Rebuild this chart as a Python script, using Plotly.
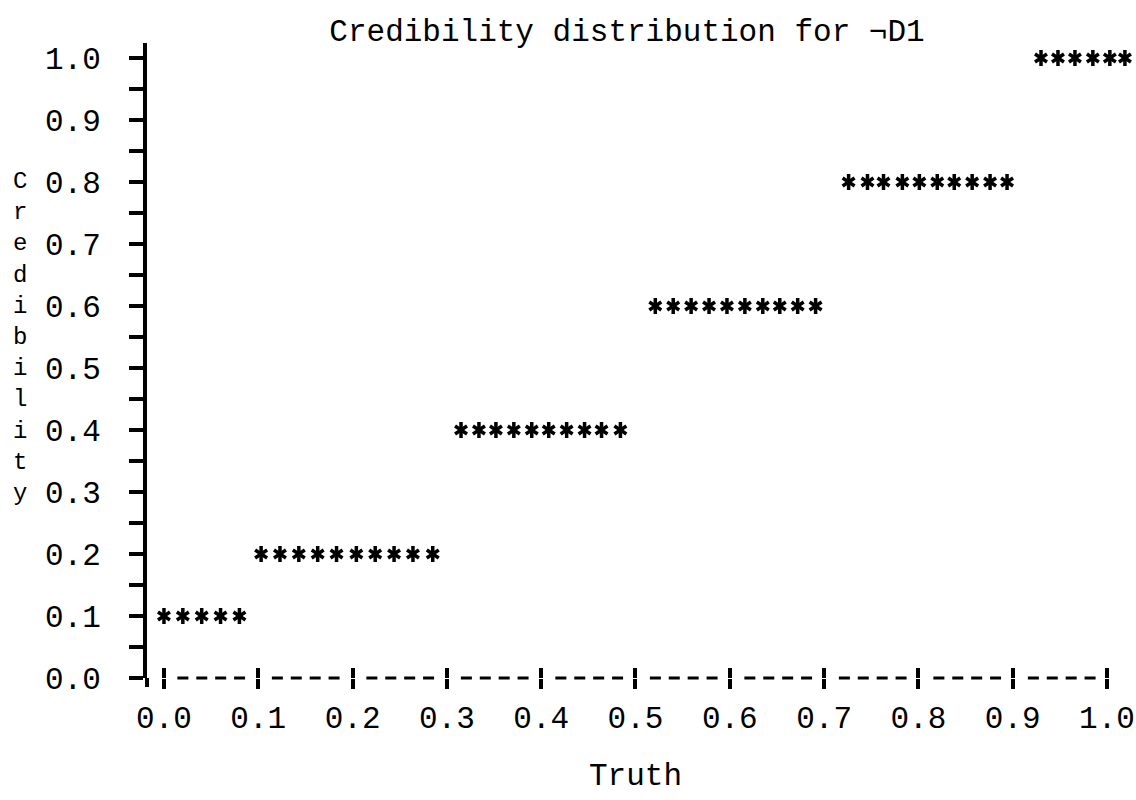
import plotly.graph_objects as go

# ---------------- data ----------------
title_text = "Credibility distribution for ¬D1"
x_axis_title = "Truth"
y_title_letters = ["C", "r", "e", "d", "i", "b", "i", "l", "i", "t", "y"]
y_title_center = 0.55            # letters run from the 0.8 row down to the 0.3 row

# credibility level of each printed row of asterisks
credibility_levels = [0.1, 0.2, 0.4, 0.6, 0.8, 1.0]
# truth value of every printed asterisk in each row
truth_at_01 = [0.000, 0.020, 0.040, 0.060, 0.080]
truth_at_02 = [0.103, 0.123, 0.143, 0.163, 0.183, 0.204, 0.224, 0.244, 0.264, 0.285]
truth_at_04 = [0.315, 0.334, 0.352, 0.371, 0.390, 0.408, 0.427, 0.446, 0.464, 0.484]
truth_at_06 = [0.521, 0.540, 0.559, 0.578, 0.597, 0.616, 0.635, 0.653, 0.672, 0.691]
truth_at_08 = [0.726, 0.746, 0.763, 0.783, 0.801, 0.820, 0.838, 0.857, 0.876, 0.894]
truth_at_10 = [0.930, 0.948, 0.966, 0.985, 1.003, 1.019]
truth_rows = [truth_at_01, truth_at_02, truth_at_04, truth_at_06, truth_at_08, truth_at_10]

x_tick_vals = [0.0, 0.1, 0.2, 0.3, 0.4, 0.5, 0.6, 0.7, 0.8, 0.9, 1.0]
x_tick_text = ["0.0", "0.1", "0.2", "0.3", "0.4", "0.5", "0.6", "0.7", "0.8", "0.9", "1.0"]
y_tick_vals = [0.0, 0.05, 0.1, 0.15, 0.2, 0.25, 0.3, 0.35, 0.4, 0.45, 0.5,
               0.55, 0.6, 0.65, 0.7, 0.75, 0.8, 0.85, 0.9, 0.95, 1.0]
y_tick_text = ["0.0", "", "0.1", "", "0.2", "", "0.3", "", "0.4", "", "0.5",
               "", "0.6", "", "0.7", "", "0.8", "", "0.9", "", "1.0"]

# ---------------- styling / layout constants ----------------
FONT = "Liberation Mono, Courier New, monospace"
FONT_SIZE = 31
LETTER_SIZE = 24                 # 1.3 line height -> one letter per 0.05 row
INK = "#000000"
W, H = 1136, 800
M_L, M_R, M_T, M_B = 147, 4, 43, 122
X_MIN, X_MAX = -0.018, 1.0265
Y_MIN, Y_MAX = 0.0, 1.0242

plot_w = W - M_L - M_R
plot_h = H - M_T - M_B
px_per_x = plot_w / (X_MAX - X_MIN)
pitch = 0.02 * px_per_x          # one printer column
dash_len = 11.0
gap_small = pitch - dash_len
gap_edge = pitch - dash_len / 2
dash_pattern = ",".join(f"{v:.1f}px" for v in
                        [0, gap_edge, dash_len, gap_small, dash_len, gap_small,
                         dash_len, gap_small, dash_len, gap_edge])

def x_dom(v):
    return (v - X_MIN) / (X_MAX - X_MIN)

stars_x, stars_y = [], []
for level, xs in zip(credibility_levels, truth_rows):
    stars_x += xs
    stars_y += [level] * len(xs)

fig = go.Figure()
for sym in ["y-up", "y-down"]:
    fig.add_trace(go.Scatter(
        x=stars_x, y=stars_y, mode="markers",
        marker=dict(symbol=sym, size=10, color=INK, line=dict(width=3.5, color=INK)),
        cliponaxis=False, hoverinfo="skip", showlegend=False))
# helper trace so the overlay axis (upper half of the "|" ticks) is drawn
fig.add_trace(go.Scatter(x=[None], y=[None], xaxis="x2", yaxis="y",
                         showlegend=False, hoverinfo="skip"))

text_font = dict(family=FONT, size=FONT_SIZE, color=INK)
annotations = [
    dict(text="<br>".join(y_title_letters), xref="paper", x=0, xshift=20 - M_L,
         yref="y", y=y_title_center, xanchor="center", yanchor="middle",
         align="center", showarrow=False,
         font=dict(family=FONT, size=LETTER_SIZE, color=INK)),
    dict(text=x_axis_title, xref="x", x=0.5, yref="paper", y=0, yshift=-98,
         xanchor="center", yanchor="middle", showarrow=False, font=text_font),
]

fig.update_layout(
    width=W, height=H,
    margin=dict(l=M_L, r=M_R, t=M_T, b=M_B, autoexpand=False),
    paper_bgcolor="white", plot_bgcolor="white",
    font=text_font,
    title=dict(text=title_text, xref="container", x=627 / W, xanchor="center",
               yref="container", y=1 - 30 / H, yanchor="middle",
               font=text_font),
    xaxis=dict(range=[X_MIN, X_MAX], tickvals=x_tick_vals, ticktext=x_tick_text,
               ticks="outside", ticklen=10, tickwidth=4, tickcolor=INK,
               showline=False, showgrid=False, zeroline=False,
               tickfont=text_font, ticklabelstandoff=2),
    xaxis2=dict(range=[X_MIN, X_MAX], overlaying="x", anchor="y", side="bottom",
                tickvals=x_tick_vals, ticks="inside", ticklen=10, tickwidth=4,
                tickcolor=INK, showticklabels=False, showline=False,
                showgrid=False, zeroline=False),
    yaxis=dict(range=[Y_MIN, Y_MAX], tickvals=y_tick_vals, ticktext=y_tick_text,
               ticks="outside", ticklen=14, tickwidth=3.5, tickcolor=INK,
               showline=True, linewidth=4, linecolor=INK,
               showgrid=False, zeroline=False,
               tickfont=text_font, ticklabelstandoff=22),
    shapes=[
        # dashed "|----|----|" x axis
        dict(type="line", xref="x domain", yref="y domain",
             x0=x_dom(0.0), x1=x_dom(1.0), y0=0, y1=0,
             line=dict(color=INK, width=3, dash=dash_pattern)),
        # lower arm of the "+" at the origin
        dict(type="line", xref="x domain", yref="y domain",
             x0=0, x1=0, y0=0, y1=-9 / plot_h,
             line=dict(color=INK, width=4)),
    ],
    annotations=annotations,
)

fig.write_html("out.html",
               config={"displayModeBar": False, "staticPlot": True},
               post_script="document.body.style.margin='0px';"
                           "document.body.style.overflow='hidden';")
